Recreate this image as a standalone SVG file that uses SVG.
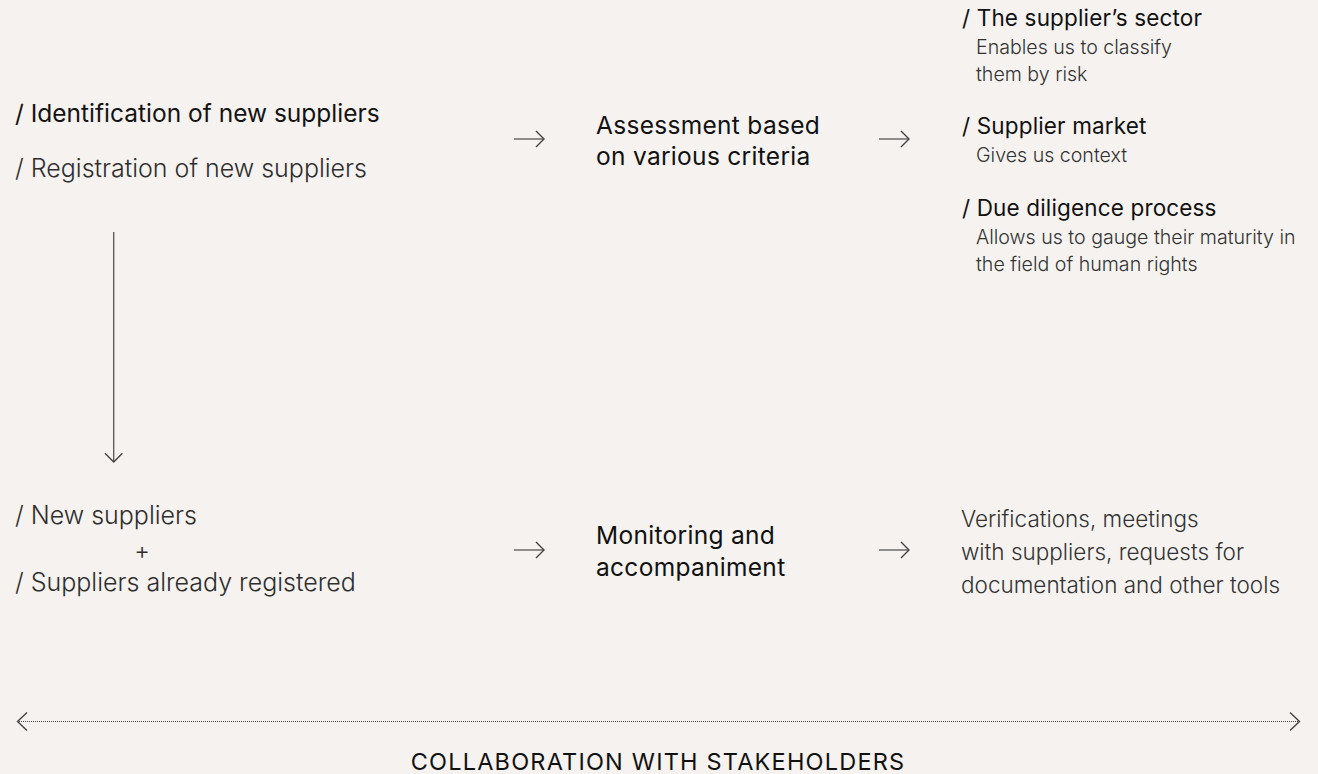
<svg xmlns="http://www.w3.org/2000/svg" width="1318" height="774" viewBox="0 0 1318 774">
<style>
text{font-family:Inter,"Liberation Sans",Arial,sans-serif;}
.h{font-size:24.5px;fill:#141414;font-weight:400;}
.l{font-size:25px;fill:#2e2e2e;font-weight:300;}
.c{font-size:24.5px;fill:#111;font-weight:400;letter-spacing:0.3px;}
.rh{font-size:22.5px;fill:#111;font-weight:400;letter-spacing:0.15px;}
.rs{font-size:19.6px;fill:#333;font-weight:300;}
.v{font-size:22.5px;fill:#333;font-weight:300;}
.b{font-size:23.5px;fill:#111;font-weight:400;letter-spacing:1.2px;}
.ln{fill:none;stroke:#555;stroke-width:1.3;}
.dot{fill:none;stroke:#444;stroke-width:1.2;stroke-dasharray:1 1;}
.hd{fill:none;stroke:#444;stroke-width:1.4;}
</style>
<rect width="1318" height="774" fill="#f5f2ef"/>
<g id="connectors">
<path class="ln" d="M113.7 232V462"/><path class="hd" d="M105 453.3L113.7 462L122.4 453.3"/>
<path class="ln" d="M514 139H544"/><path class="hd" d="M536 131L544 139L536 147"/>
<path class="ln" d="M879 139H909"/><path class="hd" d="M901 131L909 139L901 147"/>
<path class="ln" d="M514 550H544"/><path class="hd" d="M536 542L544 550L536 558"/>
<path class="ln" d="M879 550H909"/><path class="hd" d="M901 542L909 550L901 558"/>
<path class="dot" d="M19 721.5H1298"/>
<path class="hd" d="M27 712.5L17.5 721.5L27 730.5"/>
<path class="hd" d="M1290 712.5L1299.5 721.5L1290 730.5"/>
</g>
<g id="node-new-suppliers-top">
<text class="h" x="15" y="122">/ Identification of new suppliers</text>
<text class="l" x="15" y="177">/ Registration of new suppliers</text>
</g>
<g id="node-assessment">
<text class="c" x="596" y="134">Assessment based</text>
<text class="c" x="596" y="165">on various criteria</text>
</g>
<g id="node-criteria">
<text class="rh" x="962" y="26">/ The supplier’s sector</text>
<text class="rs" x="976" y="54">Enables us to classify</text>
<text class="rs" x="976" y="81">them by risk</text>
<text class="rh" x="962" y="134">/ Supplier market</text>
<text class="rs" x="976" y="162">Gives us context</text>
<text class="rh" x="962" y="216">/ Due diligence process</text>
<text class="rs" x="976" y="244">Allows us to gauge their maturity in</text>
<text class="rs" x="976" y="271">the field of human rights</text>
</g>
<g id="node-suppliers-bottom">
<text class="l" x="15" y="524">/ New suppliers</text>
<text class="l" x="142" y="559" text-anchor="middle" style="font-size:24px">+</text>
<text class="l" x="15" y="590.5">/ Suppliers already registered</text>
</g>
<g id="node-monitoring">
<text class="c" x="596" y="544">Monitoring and</text>
<text class="c" x="596" y="576">accompaniment</text>
</g>
<g id="node-tools">
<text class="v" x="961" y="527">Verifications, meetings</text>
<text class="v" x="961" y="560">with suppliers, requests for</text>
<text class="v" x="961" y="593">documentation and other tools</text>
</g>
<g id="node-collaboration">
<text class="b" x="658" y="770" text-anchor="middle">COLLABORATION WITH STAKEHOLDERS</text>
</g>
</svg>
